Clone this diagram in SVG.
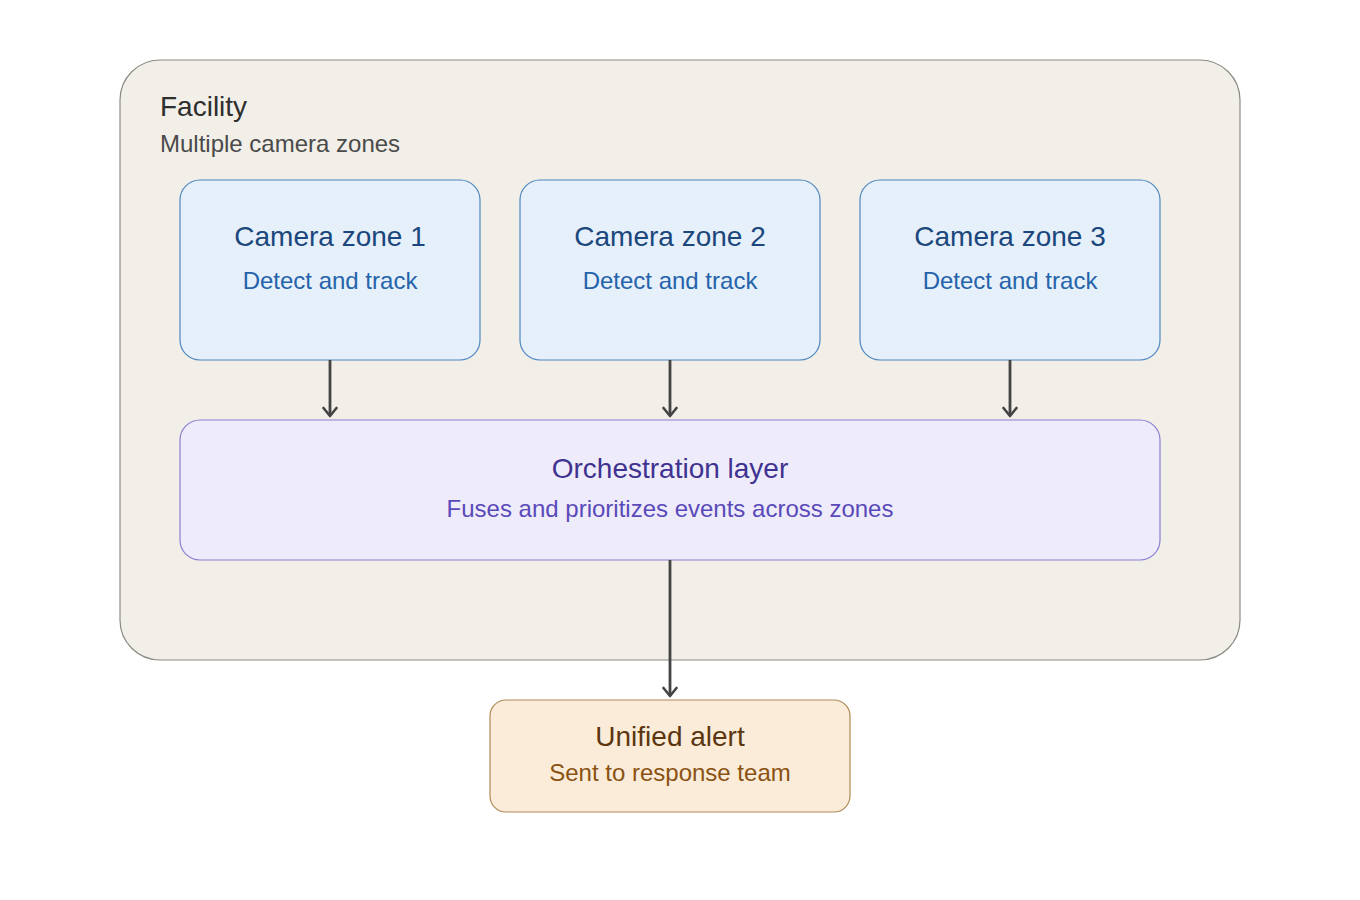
<svg xmlns="http://www.w3.org/2000/svg" width="1360" height="900" viewBox="0 0 1360 900">
<style>
text{font-family:"Liberation Sans",Arial,sans-serif;text-anchor:middle}
.t{font-size:28px}
.s{font-size:24px}
.cam rect{fill:#e6f0fa;stroke:#4f86c0;stroke-width:1.2}
.cam .t{fill:#1b477c}
.cam .s{fill:#2563ab}
.edge{stroke:#444;stroke-width:2.8;fill:none}
</style>
<defs>
<marker id="ah" markerWidth="16" markerHeight="16" refX="13" refY="8" orient="auto" markerUnits="userSpaceOnUse" viewBox="0 0 16 16">
<path d="M5 1.5 L13 8 L5 14.5" fill="none" stroke="#444" stroke-width="2.6" stroke-linecap="round" stroke-linejoin="round"/>
</marker>
</defs>
<rect width="1360" height="900" fill="#ffffff"/>
<g id="facility">
<rect x="120" y="60" width="1120" height="600" rx="40" fill="#f2efe8" stroke="#8a8a84" stroke-width="1.2"/>
<text x="160" y="116" style="text-anchor:start;font-size:28px" fill="#2e2e2e">Facility</text>
<text x="160" y="152" style="text-anchor:start;font-size:24px" fill="#4a4a4a">Multiple camera zones</text>
</g>
<g id="zone1" class="cam">
<rect x="180" y="180" width="300" height="180" rx="20"/>
<text class="t" x="330" y="246">Camera zone 1</text>
<text class="s" x="330" y="289">Detect and track</text>
</g>
<g id="zone2" class="cam">
<rect x="520" y="180" width="300" height="180" rx="20"/>
<text class="t" x="670" y="246">Camera zone 2</text>
<text class="s" x="670" y="289">Detect and track</text>
</g>
<g id="zone3" class="cam">
<rect x="860" y="180" width="300" height="180" rx="20"/>
<text class="t" x="1010" y="246">Camera zone 3</text>
<text class="s" x="1010" y="289">Detect and track</text>
</g>
<g id="orchestration">
<rect x="180" y="420" width="980" height="140" rx="20" fill="#eeecfb" stroke="#8a7fd2" stroke-width="1.2"/>
<text class="t" x="670" y="478" fill="#3f3290">Orchestration layer</text>
<text class="s" x="670" y="517" fill="#5a49b9">Fuses and prioritizes events across zones</text>
</g>
<g id="alert">
<rect x="490" y="700" width="360" height="112" rx="16" fill="#faecd8" stroke="#b08a58" stroke-width="1.2"/>
<text class="t" x="670" y="746" fill="#5c3610">Unified alert</text>
<text class="s" x="670" y="781" fill="#8a5212">Sent to response team</text>
</g>
<g id="connectors">
<line class="edge" x1="330" y1="360" x2="330" y2="416" marker-end="url(#ah)"/>
<line class="edge" x1="670" y1="360" x2="670" y2="416" marker-end="url(#ah)"/>
<line class="edge" x1="1010" y1="360" x2="1010" y2="416" marker-end="url(#ah)"/>
<line class="edge" x1="670" y1="560" x2="670" y2="696" marker-end="url(#ah)"/>
</g>
</svg>
